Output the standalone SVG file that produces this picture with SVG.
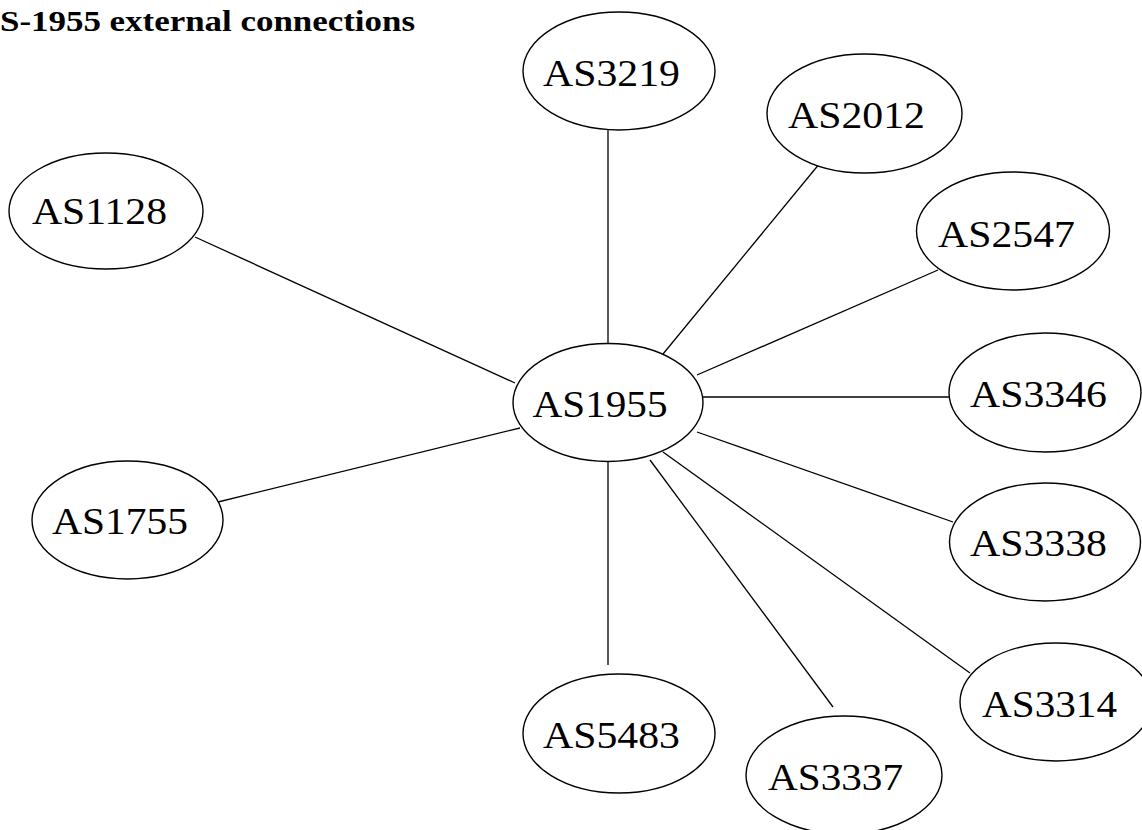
<svg xmlns="http://www.w3.org/2000/svg" width="1142" height="830" viewBox="0 0 1142 830">
<style>
.n ellipse{fill:#fff;stroke:#000;stroke-width:1.4}
.n text{font-family:"Liberation Serif","Times New Roman",serif;font-size:37px;fill:#000;text-anchor:middle}
.e line{stroke:#000;stroke-width:1.3}
.t{font-family:"Liberation Serif","Times New Roman",serif;font-weight:bold;font-size:30px;fill:#000}
</style>
<rect width="1142" height="830" fill="#fff"/>
<text class="t" x="0" y="31" textLength="415" lengthAdjust="spacingAndGlyphs">S-1955 external connections</text>
<g id="connectors" class="e">
<line x1="608" y1="130" x2="608" y2="343"/>
<line x1="663" y1="354" x2="820" y2="163"/>
<line x1="697" y1="375" x2="938" y2="270"/>
<line x1="703" y1="397" x2="950" y2="397"/>
<line x1="697" y1="432" x2="953" y2="522"/>
<line x1="663" y1="452" x2="970" y2="673"/>
<line x1="650" y1="460" x2="833" y2="707"/>
<line x1="608" y1="462" x2="608" y2="665"/>
<line x1="520" y1="428" x2="218" y2="502"/>
<line x1="515" y1="383" x2="195" y2="237"/>
</g>
<g id="AS1955" class="n"><ellipse cx="608" cy="402.5" rx="95" ry="59"/><text x="600" y="417" textLength="135" lengthAdjust="spacingAndGlyphs">AS1955</text></g>
<g id="AS3219" class="n"><ellipse cx="619" cy="71" rx="96" ry="59"/><text x="611.5" y="86" textLength="137" lengthAdjust="spacingAndGlyphs">AS3219</text></g>
<g id="AS2012" class="n"><ellipse cx="864.5" cy="113.5" rx="97.5" ry="59.5"/><text x="856.5" y="128" textLength="137" lengthAdjust="spacingAndGlyphs">AS2012</text></g>
<g id="AS2547" class="n"><ellipse cx="1013" cy="231" rx="96.5" ry="59"/><text x="1006.5" y="247" textLength="137" lengthAdjust="spacingAndGlyphs">AS2547</text></g>
<g id="AS3346" class="n"><ellipse cx="1045" cy="392.5" rx="96" ry="59.5"/><text x="1038.5" y="407" textLength="137" lengthAdjust="spacingAndGlyphs">AS3346</text></g>
<g id="AS3338" class="n"><ellipse cx="1045" cy="542" rx="95.5" ry="59"/><text x="1038.5" y="556" textLength="137" lengthAdjust="spacingAndGlyphs">AS3338</text></g>
<g id="AS3314" class="n"><ellipse cx="1056" cy="702" rx="96" ry="59"/><text x="1049.5" y="717" textLength="135" lengthAdjust="spacingAndGlyphs">AS3314</text></g>
<g id="AS3337" class="n"><ellipse cx="844" cy="775" rx="98" ry="59"/><text x="835.5" y="790" textLength="135" lengthAdjust="spacingAndGlyphs">AS3337</text></g>
<g id="AS5483" class="n"><ellipse cx="619" cy="733.5" rx="96" ry="59.5"/><text x="611.5" y="748" textLength="137" lengthAdjust="spacingAndGlyphs">AS5483</text></g>
<g id="AS1755" class="n"><ellipse cx="127.5" cy="520" rx="95.5" ry="59"/><text x="120" y="534" textLength="136" lengthAdjust="spacingAndGlyphs">AS1755</text></g>
<g id="AS1128" class="n"><ellipse cx="106" cy="211" rx="97" ry="58"/><text x="99.5" y="224" textLength="135" lengthAdjust="spacingAndGlyphs">AS1128</text></g>
</svg>
